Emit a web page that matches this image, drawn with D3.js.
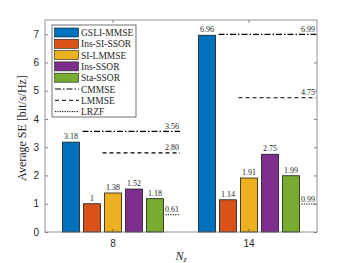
<!DOCTYPE html>
<meta charset="utf-8">
<style>
body { margin:0; background:#fff; }
svg text { fill:#262626; }
.tick text { font-family: "Liberation Sans", Arial, sans-serif; font-size:10px; }
.serif { font-family: "Liberation Serif", "DejaVu Serif", serif; }
</style>
<body>
<script src="https://d3js.org/d3.v7.min.js"></script>
<script>
// data
var groups = ["8", "14"];
var methods = ["GSLI-MMSE", "Ins-SI-SSOR", "SI-LMMSE", "Ins-SSOR", "Sta-SSOR"];
var colors = ["#0072BD", "#D95319", "#EDB120", "#7E2F8E", "#77AC30"];
var barValues = [
  [3.18, 1, 1.38, 1.52, 1.18],
  [6.96, 1.14, 1.91, 2.75, 1.99]
];
var refNames = ["CMMSE", "LMMSE", "LRZF"];
var refValues = [
  [3.56, 2.80, 0.61],
  [6.99, 4.75, 0.99]
];
var refDash = ["6,2,1.5,2", "4,3", "1.2,1.2"];
var yTicks = [0, 1, 2, 3, 4, 5, 6, 7];

var margin = {top: 20, right: 33, bottom: 31, left: 45},
    width = 350 - margin.left - margin.right,
    height = 263 - margin.top - margin.bottom;

var svg = d3.select("body").append("svg")
    .attr("width", 350)
    .attr("height", 263)
  .append("g")
    .attr("transform", "translate(" + margin.left + "," + margin.top + ")");

var x = d3.scaleBand().domain(groups).range([0, width]);
var inner = d3.scaleBand().domain(methods)
    .range([-52.5, 52.5]).paddingInner(0.19).paddingOuter(0.095);
var y = d3.scaleLinear().domain([0, 7.5]).range([height, 0]);

function gx(g) { return x(g) + x.bandwidth() / 2; }

var labelLayer = [];

// bars
groups.forEach(function(g, gi) {
  var grp = svg.append("g").attr("transform", "translate(" + gx(g) + ",0)");
  grp.selectAll("rect")
    .data(barValues[gi])
    .enter().append("rect")
      .attr("x", function(d, i) { return inner(methods[i]); })
      .attr("y", function(d) { return y(d); })
      .attr("width", inner.bandwidth())
      .attr("height", function(d) { return height - y(d); })
      .attr("fill", function(d, i) { return colors[i]; })
      .attr("stroke", "#1a1a1a")
      .attr("stroke-width", 0.8);
  grp.selectAll("text.bl")
    .data(barValues[gi])
    .enter().append("text")
      .attr("class", "serif")
      .attr("x", function(d, i) { return inner(methods[i]) + inner.bandwidth() / 2; })
      .attr("y", function(d) { return y(d) - 3; })
      .attr("text-anchor", "middle")
      .style("font-size", "8px")
      .text(function(d) { return d; });

  // reference lines
  var ends = x.bandwidth() / 2 - 1;
  var starts = [inner(methods[1]) - 1, inner(methods[2]) - 2, inner(methods[4]) + inner.bandwidth() + 2];
  refValues[gi].forEach(function(v, k) {
    grp.append("line")
      .attr("x1", starts[k]).attr("x2", ends)
      .attr("y1", y(v)).attr("y2", y(v))
      .attr("stroke", "#000")
      .attr("stroke-width", 1.1)
      .attr("stroke-dasharray", refDash[k]);
    labelLayer.push({x: gx(g) + ends - 1, y: y(v) - 2.5, v: v});
  });
});

svg.append("g").selectAll("text")
  .data(labelLayer)
  .enter().append("text")
    .attr("class", "serif")
    .attr("x", function(d) { return d.x; })
    .attr("y", function(d) { return d.y; })
    .attr("text-anchor", "end")
    .style("font-size", "8px")
    .text(function(d) { return d3.format(".2f")(d.v); });

// axes (MATLAB style, ticks inside)
var axColor = "#262626";
svg.append("g")
    .attr("transform", "translate(0," + height + ")")
    .call(d3.axisBottom(x).tickSize(-3).tickPadding(8))
    .call(function(g) { g.select(".domain").remove(); });
svg.append("g")
    .call(d3.axisLeft(y).tickValues(yTicks).tickSize(-3).tickPadding(6).tickFormat(d3.format("d")))
    .call(function(g) { g.select(".domain").remove(); });
svg.append("g")
    .attr("transform", "translate(" + width + ",0)")
    .call(d3.axisRight(y).tickValues(yTicks).tickSize(-3).tickFormat(""))
    .call(function(g) { g.select(".domain").remove(); });
svg.append("g")
    .call(d3.axisTop(x).tickSize(-3).tickFormat(""))
    .call(function(g) { g.select(".domain").remove(); });
svg.selectAll(".tick line").attr("stroke", axColor).attr("stroke-width", 0.6);
svg.selectAll(".tick text").attr("fill", axColor);
svg.append("rect")
    .attr("width", width).attr("height", height)
    .attr("fill", "none").attr("stroke", "#777").attr("stroke-width", 0.8);

// axis labels
svg.append("text")
    .attr("class", "serif")
    .attr("transform", "translate(-19," + (height / 2 + 2) + ") rotate(-90)")
    .attr("text-anchor", "middle")
    .style("font-size", "12px")
    .text("Average SE [bit/s/Hz]");
var xl = svg.append("text")
    .attr("class", "serif")
    .attr("x", width / 2)
    .attr("y", height + 28)
    .attr("text-anchor", "middle")
    .style("font-size", "12px")
    .style("font-style", "italic");
xl.append("tspan").text("N");
xl.append("tspan").attr("dy", 2).style("font-size", "8px").text("z");

// legend
var lg = svg.append("g").attr("transform", "translate(7,5)");
lg.append("rect")
    .attr("width", 84).attr("height", 92)
    .attr("fill", "#fff").attr("stroke", "#333").attr("stroke-width", 0.7);
var rowH = 11.3;
methods.forEach(function(m, i) {
  lg.append("rect")
    .attr("x", 2.5).attr("y", 3 + i * rowH)
    .attr("width", 24).attr("height", 9)
    .attr("fill", colors[i]).attr("stroke", "#1a1a1a").attr("stroke-width", 0.6);
  lg.append("text").attr("class", "serif")
    .attr("x", 29).attr("y", 11 + i * rowH)
    .style("font-size", "9.5px").text(m);
});
refNames.forEach(function(n, k) {
  var i = methods.length + k;
  lg.append("line")
    .attr("x1", 3).attr("x2", 27)
    .attr("y1", 7.5 + i * rowH).attr("y2", 7.5 + i * rowH)
    .attr("stroke", "#000").attr("stroke-width", 1)
    .attr("stroke-dasharray", refDash[k]);
  lg.append("text").attr("class", "serif")
    .attr("x", 29).attr("y", 11 + i * rowH)
    .style("font-size", "9.5px").text(n);
});
</script>
</body>
